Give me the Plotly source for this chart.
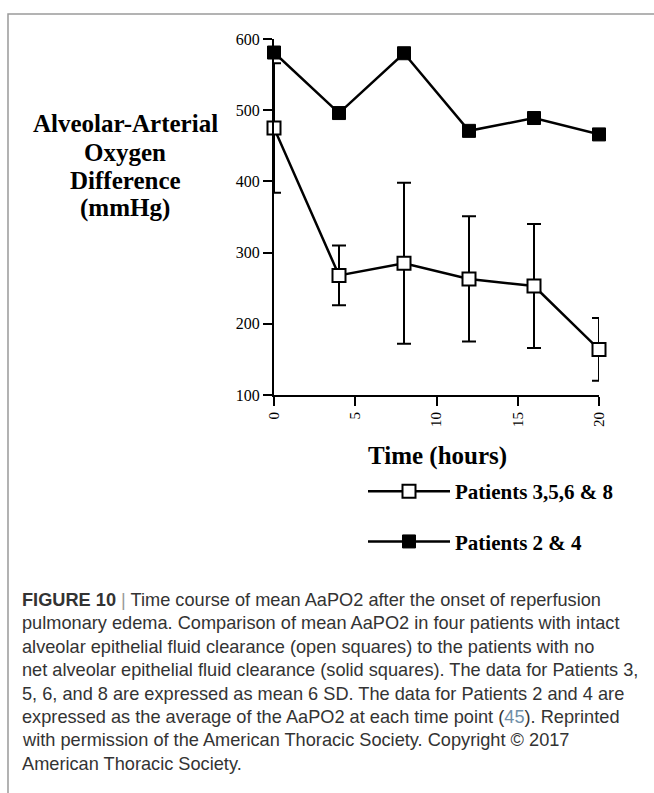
import plotly.graph_objects as go

# ---- data ----
hours = [0, 4, 8, 12, 16, 20]
open_mean = [475, 268, 285, 263, 253, 164]
open_sd = [91, 42, 113, 88, 87, 44]
solid_mean = [581, 496, 580, 471, 489, 466]
x_ticks = [0, 5, 10, 15, 20]
y_ticks = [100, 200, 300, 400, 500, 600]
ytitle_lines = ["Alveolar-Arterial", "Oxygen", "Difference", "(mmHg)"]
caption_lines = [
    "<b>FIGURE 10</b> <span style='color:#999999'>|</span> Time course of mean AaPO2 after the onset of reperfusion",
    "pulmonary edema. Comparison of mean AaPO2 in four patients with intact",
    "alveolar epithelial fluid clearance (open squares) to the patients with no",
    "net alveolar epithelial fluid clearance (solid squares). The data for Patients 3,",
    "5, 6, and 8 are expressed as mean 6 SD. The data for Patients 2 and 4 are",
    "expressed as the average of the AaPO2 at each time point (<span style='color:#6f8fa8'>45</span>). Reprinted",
    "with permission of the American Thoracic Society. Copyright © 2017",
    "American Thoracic Society.",
]

# ---- layout geometry (pixels) ----
W_FIG, H_FIG = 654, 793
L, R, T, B = 274, 599, 39, 395
PW, PH = R - L, B - T


def px(x):
    return (x - L) / PW


def py(y):
    return (B - y) / PH


SERIF = "Liberation Serif"
SANS = "Liberation Sans"

fig = go.Figure()
fig.add_trace(go.Scatter(
    x=hours, y=open_mean, mode="lines+markers",
    name="<b>Patients 3,5,6 & 8</b>", legendgroup="a",
    line=dict(color="black", width=2.5),
    marker=dict(symbol="square", size=13, color="white", line=dict(color="black", width=2)),
    error_y=dict(type="data", array=open_sd, symmetric=True, color="black", thickness=2, width=7),
    cliponaxis=False,
))
fig.add_trace(go.Scatter(
    x=hours, y=solid_mean, mode="lines+markers",
    name="<b>Patients 2 & 4</b>", legendgroup="b",
    line=dict(color="black", width=2.5),
    marker=dict(symbol="square", size=13, color="black", line=dict(color="black", width=1)),
    cliponaxis=False,
))

annotations = []
ty = [124, 152, 180, 208]
for txt, y in zip(ytitle_lines, ty):
    annotations.append(dict(
        x=px(125), y=py(y), xref="paper", yref="paper", text="<b>%s</b>" % txt,
        showarrow=False, xanchor="center", yanchor="middle",
        font=dict(family=SERIF, size=25, color="black")))
annotations.append(dict(
    x=px(437), y=py(456), xref="paper", yref="paper", text="<b>Time (hours)</b>",
    showarrow=False, xanchor="center", yanchor="middle",
    font=dict(family=SERIF, size=25, color="black")))
cy0 = 600
for i, txt in enumerate(caption_lines):
    annotations.append(dict(
        x=px(20), y=py(cy0 + i * 23.4), xref="paper", yref="paper", text=txt,
        showarrow=False, xanchor="left", yanchor="middle",
        font=dict(family=SANS, size=18.2, color="#333333")))

shapes = [dict(type="path", xref="paper", yref="paper",
               path="M %f %f L %f %f L %f %f" % (px(700), py(14), px(8), py(14), px(8), py(820)),
               line=dict(color="#9a9a9a", width=1.5))]

fig.update_layout(
    width=W_FIG, height=H_FIG,
    margin=dict(l=L, r=W_FIG - R, t=T, b=H_FIG - B, pad=0),
    paper_bgcolor="white", plot_bgcolor="white",
    showlegend=True,
    legend=dict(x=px(363), y=py(471), xanchor="left", yanchor="top",
                itemwidth=82, tracegroupgap=20, bgcolor="rgba(0,0,0,0)",
                font=dict(family=SERIF, size=21, color="black")),
    annotations=annotations, shapes=shapes,
    xaxis=dict(range=[0, 20], tickvals=x_ticks, ticktext=[str(v) for v in x_ticks],
               tickangle=-90, ticks="outside", ticklen=9, tickwidth=2, tickcolor="black",
               showline=True, linewidth=2, linecolor="black", showgrid=False, zeroline=False,
               tickfont=dict(family=SERIF, size=15, color="black")),
    yaxis=dict(range=[100, 600], tickvals=y_ticks, ticks="outside", ticklen=9, tickwidth=2,
               tickcolor="black", showline=True, linewidth=2, linecolor="black",
               showgrid=False, zeroline=False,
               tickfont=dict(family=SERIF, size=16, color="black")),
)

fig.write_html("out.html", config={"displayModeBar": False},
               post_script="document.body.style.margin='0';")
